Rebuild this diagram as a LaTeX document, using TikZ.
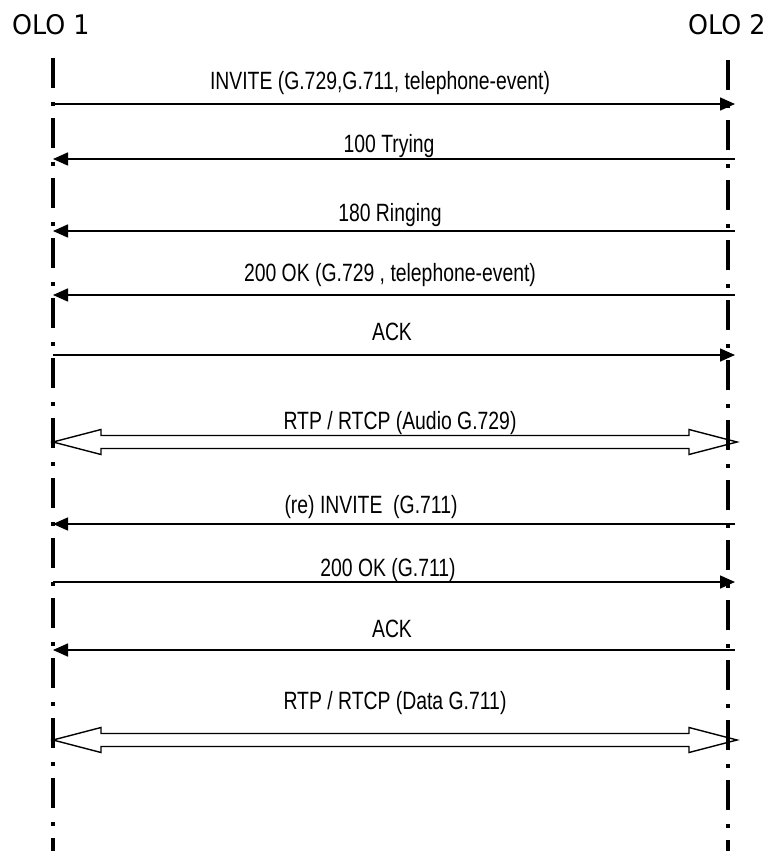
\documentclass[tikz,border=0pt]{standalone}
\usepackage{fontspec}
\setmainfont{Liberation Sans}
\newfontfamily\lblfont{Liberation Sans}[FakeStretch=0.775]
\newfontfamily\hdrfont{DejaVu Sans}[FakeStretch=0.94]
\usetikzlibrary{arrows.meta}
\tikzset{
  lifeline/.style={line width=3.5pt, dash pattern=on 30pt off 14pt on 4pt off 12pt},
  msg/.style={line width=1.6pt, -{Triangle[length=15pt,width=13pt]}},
  lbl/.style={anchor=base, inner sep=0pt, font=\lblfont\fontsize{25}{30}\selectfont},
  hdr/.style={anchor=base west, inner sep=0pt, font=\hdrfont\fontsize{27}{32}\selectfont},
  media/.style={line width=1.4pt, line join=miter}
}
\begin{document}
\begin{tikzpicture}[x=1pt,y=-1pt]
\useasboundingbox (0,0) rectangle (773,851);
% headers
\node[hdr] (olo1) at (12,35) {OLO 1};
\node[hdr] (olo2) at (688,35) {OLO 2};
% lifelines
\coordinate (top1) at (53,58);
\coordinate (bot1) at (53,851);
\coordinate (top2) at (728,60);
\coordinate (bot2) at (728,851);
\draw[lifeline] (top1) -- (bot1);
\draw[lifeline] (top2) -- (bot2);
% message end points
\foreach \n/\y in {1/104,2/159,3/231,4/295,5/355,7/524,8/582,9/650}{
  \coordinate (L\n) at (53,\y);
  \coordinate (R\n) at (735,\y);
}
\draw[msg] (L1) -- (R1);
\draw[msg] (R2) -- (L2);
\draw[msg] (R3) -- (L3);
\draw[msg] (R4) -- (L4);
\draw[msg] (L5) -- (R5);
\draw[msg] (R7) -- (L7);
\draw[msg] (L8) -- (R8);
\draw[msg] (R9) -- (L9);
% media flows (hollow double arrows)
\coordinate (mA1) at (53,442);
\coordinate (mA2) at (737,442);
\draw[media] (mA1) -- ++(48,-12.5) -- ++(0,6) -- ++(588,0) -- ++(0,-6) -- (mA2)
  -- ++(-48,12.5) -- ++(0,-6) -- ++(-588,0) -- ++(0,6) -- cycle;
\coordinate (mB1) at (53,740);
\coordinate (mB2) at (737,740);
\draw[media] (mB1) -- ++(48,-12.5) -- ++(0,6) -- ++(588,0) -- ++(0,-6) -- (mB2)
  -- ++(-48,12.5) -- ++(0,-6) -- ++(-588,0) -- ++(0,6) -- cycle;
% labels
\node[lbl] (t1) at (380,89) {INVITE (G.729,G.711, telephone-event)};
\node[lbl] (t2) at (389,152) {100 Trying};
\node[lbl] (t3) at (390,221) {180 Ringing};
\node[lbl] (t4) at (390,281) {200 OK (G.729 , telephone-event)};
\node[lbl] (t5) at (392,340) {ACK};
\node[lbl] (t6) at (400,429) {RTP / RTCP (Audio G.729)};
\node[lbl] (t7) at (371,513) {(re) INVITE\ \ (G.711)};
\node[lbl] (t8) at (388,576) {200 OK (G.711)};
\node[lbl] (t9) at (392,637) {ACK};
\node[lbl] (t10) at (395,709) {RTP / RTCP (Data G.711)};
\end{tikzpicture}
\end{document}
